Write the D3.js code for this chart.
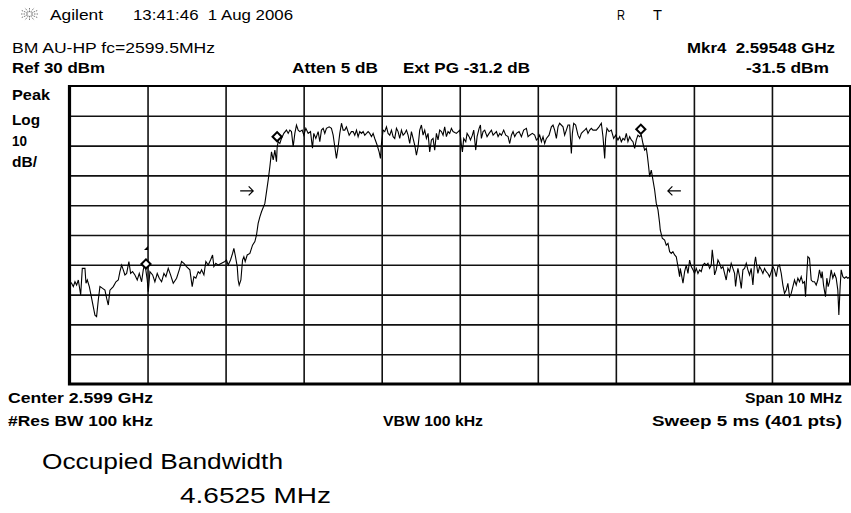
<!DOCTYPE html>
<html>
<head>
<meta charset="utf-8">
<script src="https://cdn.jsdelivr.net/npm/d3@7"></script>
<style>
  body { margin: 0; background: #fff; }
  svg { display: block; }
  text { font-family: "Liberation Sans", Arial, sans-serif; fill: #000; white-space: pre; }
  .b { font-weight: bold; }
</style>
</head>
<body>
<svg id="chart" width="851" height="513"></svg>
<script>
const traceFreq = [
  2594.50, 2594.527, 2594.549, 2594.570, 2594.591, 2594.613, 2594.643, 2594.664, 2594.698, 2594.711, 2594.728,
  2594.754, 2594.775, 2594.805, 2594.826, 2594.847, 2594.869, 2594.890, 2594.924, 2594.954, 2594.976,
  2594.997, 2595.018, 2595.061, 2595.095, 2595.125, 2595.146, 2595.168, 2595.189, 2595.210, 2595.232,
  2595.261, 2595.283, 2595.308, 2595.338, 2595.368, 2595.394, 2595.424, 2595.445, 2595.466, 2595.496,
  2595.509, 2595.530, 2595.565, 2595.594, 2595.624, 2595.650, 2595.680, 2595.710, 2595.735, 2595.765,
  2595.795, 2595.829, 2595.872, 2595.906, 2595.936, 2595.966, 2595.999, 2596.042, 2596.072, 2596.094,
  2596.119, 2596.149, 2596.171, 2596.192, 2596.222, 2596.247, 2596.277, 2596.307, 2596.333, 2596.350,
  2596.375, 2596.405, 2596.448, 2596.491, 2596.512, 2596.533, 2596.563, 2596.589, 2596.606, 2596.627,
  2596.649, 2596.661, 2596.674, 2596.696, 2596.717, 2596.734, 2596.751, 2596.777, 2596.811, 2596.845,
  2596.875, 2596.896, 2596.917, 2596.939, 2596.960, 2597.003, 2597.046, 2597.067, 2597.088, 2597.110,
  2597.131, 2597.152, 2597.161, 2597.174, 2597.195, 2597.216, 2597.246, 2597.280, 2597.302, 2597.323,
  2597.344, 2597.366, 2597.387, 2597.408, 2597.430, 2597.451, 2597.481, 2597.502, 2597.528, 2597.558,
  2597.588, 2597.613, 2597.630, 2597.656, 2597.686, 2597.707, 2597.728, 2597.750, 2597.771, 2597.792,
  2597.827, 2597.856, 2597.878, 2597.899, 2597.920, 2597.942, 2597.963, 2597.985, 2598.006, 2598.027,
  2598.048, 2598.083, 2598.112, 2598.134, 2598.155, 2598.177, 2598.198, 2598.219, 2598.241, 2598.262,
  2598.283, 2598.305, 2598.326, 2598.347, 2598.369, 2598.390, 2598.411, 2598.441, 2598.467, 2598.484,
  2598.497, 2598.518, 2598.539, 2598.561, 2598.582, 2598.603, 2598.625, 2598.646, 2598.667, 2598.689,
  2598.710, 2598.731, 2598.753, 2598.774, 2598.795, 2598.817, 2598.838, 2598.859, 2598.881, 2598.902,
  2598.923, 2598.945, 2598.966, 2598.987, 2599.009, 2599.030, 2599.051, 2599.073, 2599.094, 2599.115,
  2599.137, 2599.158, 2599.179, 2599.201, 2599.222, 2599.243, 2599.265, 2599.286, 2599.307, 2599.329,
  2599.350, 2599.371, 2599.393, 2599.414, 2599.457, 2599.500, 2599.521, 2599.534, 2599.551, 2599.577,
  2599.594, 2599.620, 2599.637, 2599.662, 2599.679, 2599.705, 2599.722, 2599.748, 2599.765, 2599.777,
  2599.799, 2599.820, 2599.850, 2599.876, 2599.906, 2599.927, 2599.948, 2599.970, 2599.991, 2600.012,
  2600.034, 2600.063, 2600.089, 2600.119, 2600.140, 2600.162, 2600.183, 2600.204, 2600.226, 2600.260,
  2600.290, 2600.319, 2600.354, 2600.375, 2600.396, 2600.430, 2600.460, 2600.482, 2600.503, 2600.524,
  2600.546, 2600.567, 2600.588, 2600.610, 2600.644, 2600.674, 2600.695, 2600.716, 2600.738, 2600.759,
  2600.780, 2600.823, 2600.844, 2600.866, 2600.887, 2600.908, 2600.930, 2600.943, 2600.960, 2600.985,
  2601.015, 2601.036, 2601.058, 2601.079, 2601.100, 2601.122, 2601.143, 2601.165, 2601.186, 2601.207,
  2601.250, 2601.284, 2601.314, 2601.335, 2601.357, 2601.369, 2601.386, 2601.412, 2601.442, 2601.472,
  2601.497, 2601.527, 2601.549, 2601.570, 2601.591, 2601.613, 2601.634, 2601.655, 2601.677, 2601.698,
  2601.719, 2601.741, 2601.762, 2601.783, 2601.805, 2601.826, 2601.847, 2601.869, 2601.890, 2601.903,
  2601.920, 2601.933, 2601.954, 2601.975, 2601.997, 2602.018, 2602.040, 2602.061, 2602.069, 2602.095,
  2602.125, 2602.146, 2602.168, 2602.189, 2602.210, 2602.231, 2602.253, 2602.274, 2602.296, 2602.317,
  2602.325, 2602.338, 2602.360, 2602.381, 2602.402, 2602.424, 2602.445, 2602.466, 2602.488, 2602.509,
  2602.530, 2602.552, 2602.573, 2602.594, 2602.616, 2602.637, 2602.658, 2602.680, 2602.701, 2602.722,
  2602.735, 2602.752, 2602.765, 2602.786, 2602.808, 2602.829, 2602.850, 2602.872, 2602.893, 2602.914,
  2602.936, 2602.957, 2602.978, 2603.000, 2603.021, 2603.034, 2603.051, 2603.064, 2603.085, 2603.107,
  2603.128, 2603.149, 2603.171, 2603.192, 2603.213, 2603.234, 2603.256, 2603.277, 2603.290, 2603.307,
  2603.320, 2603.341, 2603.363, 2603.384, 2603.405, 2603.427, 2603.448, 2603.469, 2603.491, 2603.512,
  2603.533, 2603.555, 2603.576, 2603.597, 2603.619, 2603.640, 2603.661, 2603.683, 2603.704, 2603.725,
  2603.747, 2603.768, 2603.789, 2603.811, 2603.832, 2603.853, 2603.875, 2603.896, 2603.917, 2603.930,
  2603.947, 2603.960, 2603.981, 2604.003, 2604.024, 2604.045, 2604.067, 2604.088, 2604.109, 2604.131,
  2604.143, 2604.161, 2604.186, 2604.203, 2604.220, 2604.237, 2604.259, 2604.280, 2604.301, 2604.323,
  2604.344, 2604.357, 2604.374, 2604.387, 2604.408, 2604.429, 2604.451, 2604.472, 2604.50
]
const traceLevel = [
  -35.5, -36.2, -37.3, -35.7, -36.8, -35.1, -40.1, -31.2, -31.2, -36.2, -35.1,
  -37.3, -40.1, -44.1, -46.9, -47.4, -41.8, -37.3, -37.9, -38.5, -41.3,
  -43.5, -38.5, -37.3, -35.7, -35.1, -32.3, -30.1, -31.7, -33.4, -32.9,
  -28.9, -32.9, -32.3, -33.4, -35.1, -32.9, -35.7, -31.7, -29.5, -35.1,
  -39.0, -32.3, -33.4, -35.7, -32.9, -34.5, -35.7, -32.9, -34.0, -31.2,
  -33.4, -36.2, -34.5, -31.7, -28.9, -29.5, -30.6, -31.7, -37.3, -34.0,
  -34.5, -32.3, -32.9, -31.7, -33.4, -28.9, -30.1, -28.4, -26.7, -30.6,
  -29.5, -30.1, -29.5, -28.9, -28.4, -30.1, -28.4, -26.2, -24.5, -27.3,
  -30.6, -35.1, -36.8, -35.1, -28.4, -27.3, -28.9, -26.7, -26.2, -23.4,
  -22.2, -20.0, -16.1, -13.9, -12.2, -9.4, -1.5, 2.9, 7.9, 5.2,
  8.5, 4.6, 9.6, 11.3, 10.7, 12.4, 14.1, 15.2, 14.1, 15.2,
  14.7, 9.6, 14.1, 16.9, 15.2, 14.7, 15.2, 13.5, 15.8, 14.1,
  14.7, 9.1, 14.1, 12.4, 14.7, 11.3, 15.2, 15.8, 14.1, 15.8,
  16.3, 15.8, 13.5, 9.6, 5.7, 9.6, 14.1, 17.5, 15.2, 15.2,
  16.3, 13.5, 14.7, 14.7, 13.5, 15.2, 13.0, 14.7, 14.1, 14.7,
  13.5, 14.1, 14.7, 14.1, 13.0, 14.1, 12.4, 10.2, 7.9, 5.7,
  10.7, 15.2, 14.7, 16.3, 14.1, 13.5, 15.2, 13.0, 12.4, 15.8,
  14.7, 12.4, 15.2, 13.5, 14.1, 15.2, 13.5, 10.7, 14.7, 12.4,
  10.2, 6.8, 9.6, 15.2, 16.9, 13.5, 15.2, 12.4, 14.1, 7.9,
  11.9, 12.4, 8.5, 14.1, 11.9, 15.2, 14.7, 13.5, 16.3, 13.0,
  14.7, 14.1, 15.8, 14.7, 14.1, 15.2, 10.2, 7.9, 12.4, 11.3,
  14.1, 13.0, 11.9, 13.5, 15.2, 8.5, 13.0, 15.8, 16.9, 12.4,
  14.7, 15.2, 13.0, 14.1, 15.2, 13.5, 14.1, 14.7, 13.0, 14.1,
  13.5, 15.2, 13.5, 13.0, 10.7, 13.5, 14.7, 13.0, 14.1, 14.7,
  13.0, 15.2, 15.8, 13.0, 13.5, 14.1, 13.5, 11.9, 12.4, 13.5,
  11.3, 13.0, 10.7, 12.4, 13.5, 16.3, 16.9, 15.2, 12.4, 16.3,
  17.5, 16.3, 13.5, 15.2, 16.9, 16.9, 7.4, 14.1, 17.5, 16.9,
  13.5, 12.4, 14.1, 14.7, 15.2, 15.8, 14.1, 15.2, 15.8, 15.2,
  15.2, 16.3, 17.5, 13.0, 5.7, 12.4, 15.8, 14.7, 15.2, 12.4,
  13.5, 11.9, 13.0, 11.3, 12.4, 11.9, 14.1, 11.3, 13.0, 11.9,
  11.3, 9.1, 11.9, 13.5, 13.0, 13.5, 10.7, 8.5, 9.1, 6.8,
  2.9, -0.4, 1.8, -1.5, -4.9, -9.4, -11.6, -16.1, -18.3, -21.1,
  -21.7, -23.4, -22.8, -25.6, -26.2, -25.6, -26.7, -27.3, -30.6, -34.0,
  -31.2, -32.9, -36.2, -32.3, -30.1, -32.9, -28.4, -30.6, -31.7, -32.9,
  -31.2, -32.9, -31.7, -32.3, -30.1, -29.5, -30.1, -29.5, -31.2, -30.1,
  -25.0, -28.9, -33.4, -31.7, -28.4, -29.5, -31.2, -30.6, -32.9, -35.1,
  -31.2, -32.3, -29.5, -31.2, -32.9, -37.3, -33.4, -31.2, -34.0, -37.9,
  -31.7, -31.2, -29.5, -31.7, -33.4, -31.2, -36.8, -29.5, -27.3, -30.6,
  -32.9, -30.6, -31.7, -32.9, -31.2, -32.3, -32.9, -34.0, -32.3, -30.6,
  -31.7, -34.0, -30.6, -30.1, -32.9, -36.8, -39.6, -38.5, -36.2, -40.7,
  -39.6, -37.3, -35.1, -36.8, -34.5, -35.7, -34.0, -36.2, -35.7, -40.7,
  -32.9, -27.3, -27.8, -35.1, -35.7, -35.7, -36.8, -35.1, -31.7, -34.5,
  -32.3, -36.8, -40.7, -34.5, -37.3, -35.7, -31.7, -34.5, -32.9, -34.5,
  -38.5, -46.8, -37.3, -31.7, -34.0, -34.5, -34.0, -34.5, -34.0
]

// markers: [freq MHz, level dBm]
const obwMarkers = [[2597.16, 13.0], [2601.82, 15.5]]
const mkr4 = [2595.48, -29.7]
// occupied-bandwidth arrows (direction +1 right, -1 left)
const arrows = [
  { freq: 2596.77, level: -5.2, dir: 1 },
  { freq: 2602.25, level: -5.2, dir: -1 }
]

const refLevel = 30
const dbPerDiv = 10
const centerMHz = 2599.5
const spanMHz = 10

const svg = d3.select("#chart")

const plotL = 69.5, plotR = 850, plotT = 86, plotB = 384

const x = d3.scaleLinear()
  .domain([centerMHz - spanMHz / 2, centerMHz + spanMHz / 2])
  .range([plotL, plotR])
const y = d3.scaleLinear()
  .domain([refLevel - 10 * dbPerDiv, refLevel])
  .range([plotB, plotT])

// graticule
const gx = d3.range(1, 10).map(i => x.domain()[0] + i * spanMHz / 10)
const gy = d3.range(1, 10).map(i => refLevel - i * dbPerDiv)

svg.append("g")
  .attr("transform", `translate(0,${plotB})`)
  .call(d3.axisBottom(x).tickValues(gx).tickSize(-(plotB - plotT)).tickFormat(""))
  .call(g => g.select(".domain").remove())
  .call(g => g.selectAll("line").attr("stroke", "#111").attr("stroke-width", 1.6))

svg.append("g")
  .attr("transform", `translate(${plotL},0)`)
  .call(d3.axisLeft(y).tickValues(gy).tickSize(-(plotR - plotL)).tickFormat(""))
  .call(g => g.select(".domain").remove())
  .call(g => g.selectAll("line").attr("stroke", "#111").attr("stroke-width", 1.6))

svg.append("rect")
  .attr("x", plotL).attr("y", plotT)
  .attr("width", plotR - plotL).attr("height", plotB - plotT)
  .attr("fill", "none").attr("stroke", "#000").attr("stroke-width", 2)
// heavier left and bottom edge
svg.append("path")
  .attr("d", `M${plotL},${plotT - 1}V${plotB}H${plotR + 1}`)
  .attr("fill", "none").attr("stroke", "#000").attr("stroke-width", 3.2)

// trace
const trace = traceFreq.map((f, i) => [f, traceLevel[i]])
const line = d3.line().x(d => x(d[0])).y(d => y(d[1]))

svg.append("path")
  .datum(trace)
  .attr("d", line)
  .attr("fill", "none")
  .attr("stroke", "#000")
  .attr("stroke-width", 1.1)

// diamond markers
const diamond = d3.symbol(d3.symbolSquare, 42)
svg.selectAll(".mk")
  .data([...obwMarkers, mkr4])
  .join("path")
    .attr("class", "mk")
    .attr("d", diamond)
    .attr("transform", d => `translate(${x(d[0])},${y(d[1])}) rotate(45)`)
    .attr("fill", "#fff")
    .attr("stroke", "#000")
    .attr("stroke-width", 2)

// small marker-number flag above marker 4
svg.append("path")
  .attr("transform", `translate(${x(mkr4[0])},${y(mkr4[1]) - 15})`)
  .attr("d", "M2,-3L-2,1L2,1Z")
  .attr("fill", "#000")

// arrows drawn as short shafts with open heads
svg.selectAll(".arr")
  .data(arrows)
  .join("path")
    .attr("class", "arr")
    .attr("transform", d => `translate(${x(d.freq)},${y(d.level)}) scale(${d.dir},1)`)
    .attr("d", "M-6.5,0H6.5M2,-4.5L6.5,0L2,4.5")
    .attr("fill", "none")
    .attr("stroke", "#000")
    .attr("stroke-width", 1.2)

// Agilent logo
const logo = svg.append("g").attr("transform", "translate(29.5,14)")
d3.range(12).forEach(i => {
  const a = i * Math.PI / 6
  logo.append("line")
    .attr("x1", 2 * Math.cos(a)).attr("y1", 2 * Math.sin(a))
    .attr("x2", 9 * Math.cos(a)).attr("y2", 7 * Math.sin(a))
    .attr("stroke", "#777").attr("stroke-width", 1)
    .attr("stroke-dasharray", "1.5,1")
})

// labels: [text, x, y, width, size, bold]
const labels = [
  ["Agilent", 50, 20, 53, 14, false],
  ["13:41:46  1 Aug 2006", 133, 20, 160, 14, false],
  ["R", 617, 20, 8, 14, false],
  ["T", 653, 20, 9, 14, false],
  ["BM AU-HP fc=2599.5MHz", 12, 53, 203, 14, false],
  ["Mkr4  2.59548 GHz", 687, 53, 148, 14, true],
  ["Ref 30 dBm", 12, 73, 93, 14, true],
  ["Atten 5 dB", 292, 73, 86, 14, true],
  ["Ext PG -31.2 dB", 403, 73, 127, 14, true],
  ["-31.5 dBm", 746, 73, 83, 14, true],
  ["Peak", 12, 100, 38, 14, true],
  ["Log", 12, 125, 28, 14, true],
  ["10", 12, 146, 15, 14, true],
  ["dB/", 12, 167, 25, 14, true],
  ["Center 2.599 GHz", 8, 403, 145, 14, true],
  ["Span 10 MHz", 745, 403, 97, 14, true],
  ["#Res BW 100 kHz", 8, 426, 145, 14, true],
  ["VBW 100 kHz", 383, 426, 100, 14, true],
  ["Sweep 5 ms (401 pts)", 652, 426, 190, 14, true],
  ["Occupied Bandwidth", 42, 469, 241, 22, false],
  ["4.6525 MHz", 180, 503, 151, 22, false]
]

svg.selectAll(".lbl")
  .data(labels)
  .join("text")
    .attr("class", d => d[5] ? "lbl b" : "lbl")
    .attr("x", d => d[1])
    .attr("y", d => d[2])
    .attr("textLength", d => d[3])
    .attr("lengthAdjust", "spacingAndGlyphs")
    .style("font-size", d => d[4] + "px")
    .text(d => d[0])
</script>
</body>
</html>
